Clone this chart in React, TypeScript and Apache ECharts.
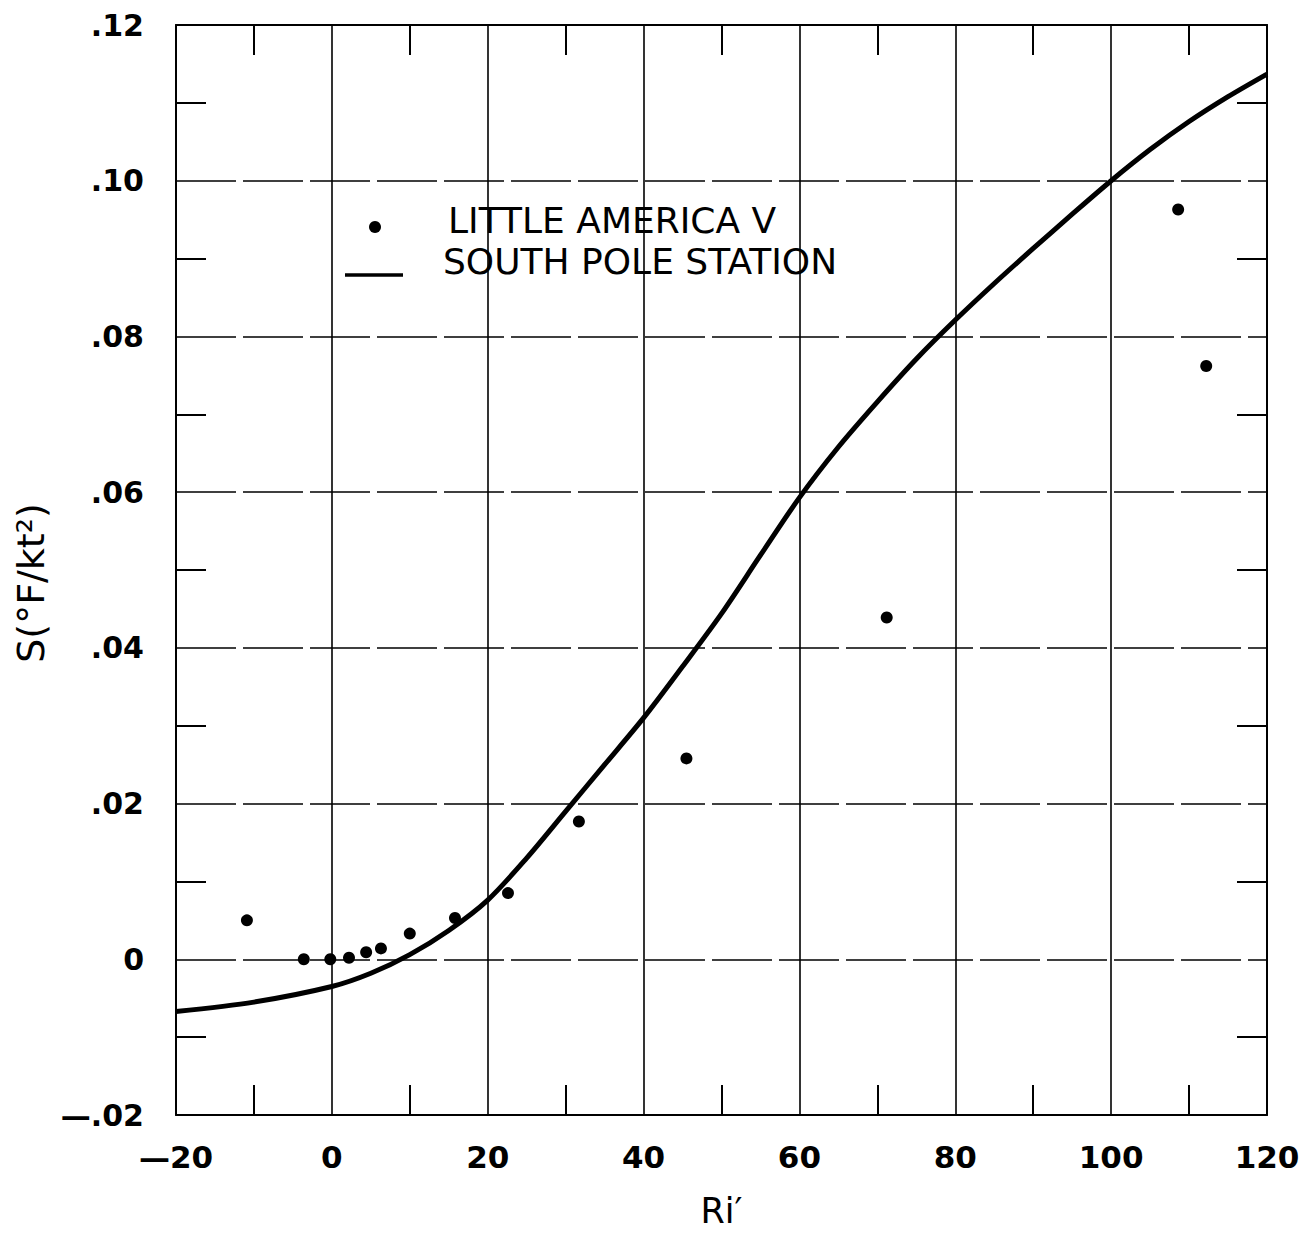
import React, { useEffect, useRef } from "react";
import * as echarts from "echarts";

const riLittleAmerica = [-10.9, -3.6, -0.2, 2.2, 4.4, 6.3, 10.0, 15.8, 22.6, 31.7, 45.5, 71.2, 108.6, 112.2];
const sLittleAmerica = [0.005, 0.0, 0.0, 0.0002, 0.0009, 0.0014, 0.0033, 0.0053, 0.0085, 0.0177, 0.0258, 0.0439, 0.0963, 0.0762];

const riSouthPole = [-20, -10, 0, 5, 10, 15, 20, 25, 30, 35, 40, 45, 50, 55, 60, 65, 70, 75, 80, 85, 90, 95, 100, 105, 110, 115, 120];
const sSouthPole = [-0.0067, -0.0055, -0.0035, -0.0018, 0.0006, 0.0037, 0.0076, 0.013, 0.019, 0.025, 0.031, 0.0376, 0.0444, 0.0519, 0.0593, 0.0658, 0.0716, 0.0771, 0.0821, 0.0868, 0.0913, 0.0957, 0.1, 0.104, 0.1076, 0.1108, 0.1137];

const xTickLabels: Record<string, string> = { "-20": "—20", "0": "0", "20": "20", "40": "40", "60": "60", "80": "80", "100": "100", "120": "120" };
const yTickLabels: Record<string, string> = { "0.12": ".12", "0.1": ".10", "0.08": ".08", "0.06": ".06", "0.04": ".04", "0.02": ".02", "0": "0", "-0.02": "—.02" };

const seriesNames = ["LITTLE AMERICA V", "SOUTH POLE STATION"];
const xName = "Ri′";
const yName = "S(°F/kt²)";

const FONT = "DejaVu Sans";

export default function App() {
  const ref = useRef<HTMLDivElement>(null);
  useEffect(() => {
    if (!ref.current) return;
    const chart = echarts.init(ref.current, undefined, { renderer: "svg" });
    const axisLineStyle = { color: "#000", width: 2 };
    const minorTick = { show: true, splitNumber: 2, length: 30, lineStyle: { color: "#000", width: 2 } };
    const option = {
      animation: false,
      backgroundColor: "#fff",
      grid: { left: 176, right: 46, top: 25, bottom: 117, containLabel: false },
      xAxis: [
        {
          type: "value",
          min: -20,
          max: 120,
          interval: 20,
          position: "bottom",
          name: xName,
          nameLocation: "middle",
          nameGap: 78,
          nameTextStyle: { fontFamily: FONT, fontSize: 35, color: "#000" },
          axisLine: { show: true, onZero: false, lineStyle: axisLineStyle },
          axisTick: { show: true, inside: true, length: 0, lineStyle: axisLineStyle },
          minorTick,
          axisLabel: {
            show: true,
            margin: 26,
            fontFamily: FONT,
            fontSize: 31,
            fontWeight: "bold",
            color: "#000",
            formatter: (v: number) => xTickLabels[String(v)] ?? String(v),
          },
          splitLine: { show: true, lineStyle: { color: "#000", width: 1.6 } },
        },
        {
          type: "value",
          min: -20,
          max: 120,
          interval: 20,
          position: "top",
          axisLine: { show: true, onZero: false, lineStyle: axisLineStyle },
          axisTick: { show: true, inside: true, length: 0, lineStyle: axisLineStyle },
          minorTick,
          axisLabel: { show: false },
          splitLine: { show: false },
        },
      ],
      yAxis: [
        {
          type: "value",
          min: -0.02,
          max: 0.12,
          interval: 0.02,
          position: "left",
          name: yName,
          nameLocation: "middle",
          nameGap: 124,
          nameRotate: 90,
          nameTextStyle: { fontFamily: FONT, fontSize: 38, color: "#000", padding: [0, 26, 0, 0] },
          axisLine: { show: true, onZero: false, lineStyle: axisLineStyle },
          axisTick: { show: true, inside: true, length: 0, lineStyle: axisLineStyle },
          minorTick,
          axisLabel: {
            show: true,
            margin: 32,
            fontFamily: FONT,
            fontSize: 30,
            fontWeight: "bold",
            color: "#000",
            formatter: (v: number) => yTickLabels[String(Math.round(v * 1000) / 1000)] ?? String(v),
          },
          splitLine: { show: true, lineStyle: { color: "#000", width: 1.6, type: [60, 7] } },
        },
        {
          type: "value",
          min: -0.02,
          max: 0.12,
          interval: 0.02,
          position: "right",
          axisLine: { show: true, onZero: false, lineStyle: axisLineStyle },
          axisTick: { show: true, inside: true, length: 0, lineStyle: axisLineStyle },
          minorTick,
          axisLabel: { show: false },
          splitLine: { show: false },
        },
      ],
      series: [
        {
          name: seriesNames[1],
          type: "line",
          xAxisIndex: 0,
          yAxisIndex: 0,
          smooth: 0.3,
          showSymbol: false,
          symbol: "none",
          lineStyle: { color: "#000", width: 5 },
          data: riSouthPole.map((x, i) => [x, sSouthPole[i]]),
          z: 3,
        },
        {
          name: seriesNames[0],
          type: "scatter",
          xAxisIndex: 0,
          yAxisIndex: 0,
          symbol: "circle",
          symbolSize: 12,
          itemStyle: { color: "#000", opacity: 1 },
          data: riLittleAmerica.map((x, i) => [x, sLittleAmerica[i]]),
          z: 4,
        },
      ],
      graphic: [
        { type: "circle", shape: { cx: 375, cy: 227, r: 6 }, style: { fill: "#000" } },
        { type: "line", shape: { x1: 345, y1: 275, x2: 403, y2: 275 }, style: { stroke: "#000", lineWidth: 3.5 } },
        {
          type: "text",
          x: 448,
          y: 220,
          style: { text: seriesNames[0], fontFamily: FONT, fontSize: 36, fill: "#000", verticalAlign: "middle", align: "left" },
        },
        {
          type: "text",
          x: 443,
          y: 261,
          style: { text: seriesNames[1], fontFamily: FONT, fontSize: 36, fill: "#000", verticalAlign: "middle", align: "left" },
        },
      ],
    };
    chart.setOption(option as any);
    return () => chart.dispose();
  }, []);
  return (
    <div
      ref={ref}
      style={{ position: "absolute", left: 0, top: 0, width: 1313, height: 1233, background: "#fff" }}
    />
  );
}
